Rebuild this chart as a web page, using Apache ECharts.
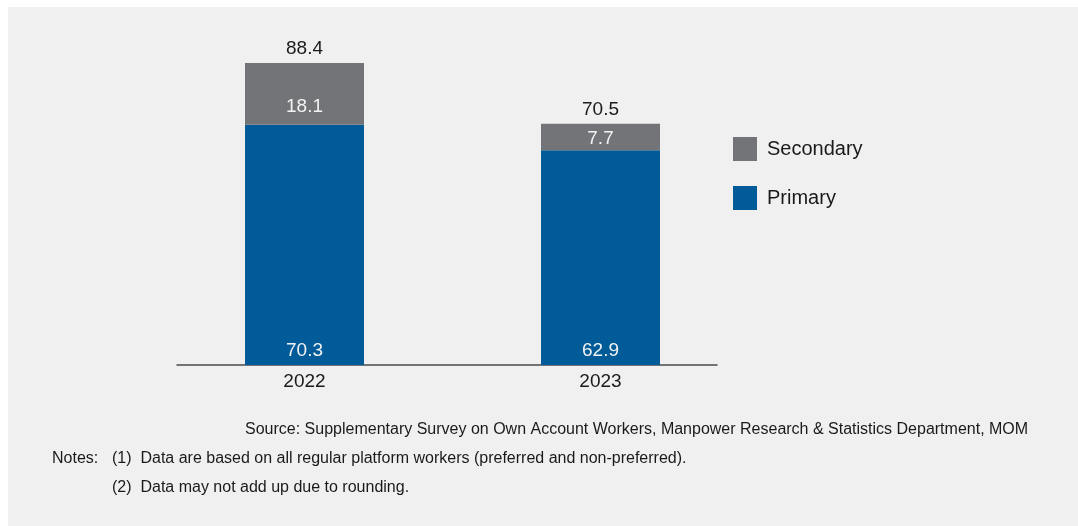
<!DOCTYPE html>
<html>
<head>
<meta charset="utf-8">
<script src="https://cdn.jsdelivr.net/npm/echarts@6/dist/echarts.min.js"></script>
<style>
  html, body { margin: 0; padding: 0; background: #ffffff; }
  #panel { position: absolute; left: 8px; top: 7px; width: 1070px; height: 519px; background: #f0f0f0; }
  #chart { width: 1070px; height: 519px; }
</style>
</head>
<body>
<div id="panel"><div id="chart"></div></div>
<script>
// Platform workers by type of work (thousands)
const years = ['2022', '2023'];
const primary = [70.3, 62.9];
const secondary = [18.1, 7.7];
const totals = [88.4, 70.5];

const FONT = '"Liberation Sans", Arial, sans-serif';
const BLUE = '#005b98';
const GREY = '#737477';
const INK = '#1a1a1a';

const chart = echarts.init(document.getElementById('chart'));

const valueLabel = p => Number(p.value).toFixed(1);

chart.setOption({
  animation: false,
  backgroundColor: 'transparent',
  textStyle: { fontFamily: FONT },
  grid: [
    // bars
    { left: 148.5, width: 592, top: 16.4, height: 341.6 },
    // shorter baseline under the bars
    { left: 169, width: 540, top: 16.4, height: 341.6 }
  ],
  xAxis: [
    {
      type: 'category', gridIndex: 0, data: years,
      axisLine: { show: false },
      axisTick: { show: false },
      axisLabel: { color: INK, fontSize: 19, margin: 7, fontFamily: FONT }
    },
    {
      type: 'value', gridIndex: 1, min: 0, max: 1,
      axisLine: { show: true, lineStyle: { color: '#4a4a4a', width: 1.5 } },
      axisTick: { show: false },
      axisLabel: { show: false },
      splitLine: { show: false }
    }
  ],
  yAxis: [
    { type: 'value', gridIndex: 0, min: 0, max: 100, show: false, splitLine: { show: false } },
    { type: 'value', gridIndex: 1, min: 0, max: 100, show: false, splitLine: { show: false } }
  ],
  legend: {
    orient: 'vertical',
    left: 725, top: 130, padding: 0,
    itemWidth: 24, itemHeight: 24, itemGap: 25,
    icon: 'rect',
    data: ['Secondary', 'Primary'],
    textStyle: { fontSize: 20, color: INK, fontFamily: FONT, padding: [2, 0, 0, 5] }
  },
  series: [
    {
      name: 'Primary', type: 'bar', stack: 'total', barWidth: 119, barGap: '-100%',
      itemStyle: { color: BLUE },
      data: primary,
      label: {
        show: true, position: 'insideBottom', distance: 5,
        formatter: valueLabel,
        color: '#f2f2f2', fontSize: 19, fontFamily: FONT
      }
    },
    {
      name: 'Secondary', type: 'bar', stack: 'total', barWidth: 119, barGap: '-100%',
      itemStyle: { color: GREY },
      data: secondary.map((v, i) => ({
        value: v,
        label: { offset: [0, i === 0 ? 13 : 2] }
      })),
      label: {
        show: true, position: 'inside',
        formatter: valueLabel,
        color: '#f2f2f2', fontSize: 19, fontFamily: FONT
      }
    },
    {
      // totals written above each stack
      name: 'Total', type: 'bar', barWidth: 119, barGap: '-100%', silent: true,
      itemStyle: { color: 'rgba(0,0,0,0)' },
      data: totals,
      z: 1,
      label: {
        show: true, position: 'top', distance: 5,
        formatter: valueLabel,
        color: INK, fontSize: 19, fontFamily: FONT
      }
    }
  ],
  graphic: [
    {
      type: 'text', left: 237, top: 415,
      style: {
        text: 'Source: Supplementary Survey on Own Account Workers, Manpower Research & Statistics Department, MOM',
        font: '16px ' + FONT, fill: INK
      }
    },
    {
      type: 'text', left: 44, top: 444,
      style: { text: 'Notes:', font: '16px ' + FONT, fill: INK }
    },
    {
      type: 'text', left: 104, top: 444,
      style: { text: '(1)  Data are based on all regular platform workers (preferred and non-preferred).', font: '16px ' + FONT, fill: INK }
    },
    {
      type: 'text', left: 104, top: 473,
      style: { text: '(2)  Data may not add up due to rounding.', font: '16px ' + FONT, fill: INK }
    }
  ]
});
</script>
</body>
</html>
